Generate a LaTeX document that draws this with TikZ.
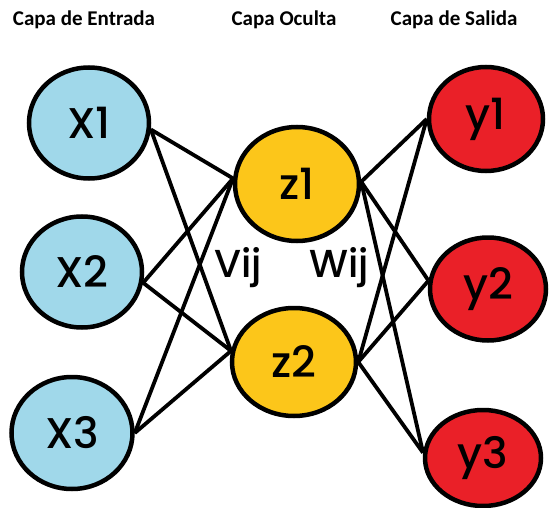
\documentclass[tikz,border=0pt]{standalone}
\usepackage{fontspec}
\setmainfont{Poppins}
\newfontfamily\nodefont{Poppins Medium}
\newfontfamily\titlefont{Carlito}
\usetikzlibrary{shapes.geometric}
\definecolor{inblue}{RGB}{160,216,234}
\definecolor{hidyellow}{RGB}{252,198,26}
\definecolor{outred}{RGB}{234,32,40}
\tikzset{
  neuron/.style={ellipse, draw=black, line width=4.5pt, inner sep=0pt, font=\nodefont\fontsize{43}{43}\selectfont},
  title/.style={font=\titlefont\bfseries\fontsize{21}{21}\selectfont, inner sep=0pt},
  wlabel/.style={font=\nodefont\fontsize{39}{39}\selectfont, inner sep=0pt},
  conn/.style={line width=3.8pt, black}
}
\begin{document}
\begin{tikzpicture}[x=1pt,y=-1pt]
\useasboundingbox (0,0) rectangle (557,508);
% titles
\node[title] (t1) at (84,20) {Capa de Entrada};
\node[title] (t2) at (284,20) {Capa Oculta};
\node[title] (t3) at (454,20) {Capa de Salida};
% neurons
\node[neuron, fill=inblue, minimum width=120pt, minimum height=111pt] (x1) at (89,123) {X1};
\node[neuron, fill=inblue, minimum width=120pt, minimum height=111pt] (x2) at (82,272) {X2};
\node[neuron, fill=inblue, minimum width=121pt, minimum height=112pt] (x3) at (72,433) {X3};
\node[neuron, fill=hidyellow, minimum width=124pt, minimum height=114pt] (z1) at (297,184) {z1};
\node[neuron, fill=hidyellow, minimum width=124pt, minimum height=108pt] (z2) at (294,362) {z2};
\node[neuron, fill=outred, minimum width=114pt, minimum height=104pt] (y1) at (486,119) {y1};
\node[neuron, fill=outred, minimum width=116pt, minimum height=103pt] (y2) at (488,289) {y2};
\node[neuron, fill=outred, minimum width=116pt, minimum height=96pt] (y3) at (483,458) {y3};
% connectors input -> hidden
\draw[conn] (x1.-6) -- (z1.175);
\draw[conn] (x1.-6) -- (z2.170);
\draw[conn] (x2.-10) -- (z1.175);
\draw[conn] (x2.-10) -- (z2.170);
\draw[conn] (x3.0) -- (z1.175);
\draw[conn] (x3.0) -- (z2.170);
% connectors hidden -> output
\draw[conn] (z1.2) -- (y1.180);
\draw[conn] (z1.2) -- (y2.172);
\draw[conn] (z1.2) -- (y3.175);
\draw[conn] (z2.0) -- (y1.180);
\draw[conn] (z2.0) -- (y2.172);
\draw[conn] (z2.0) -- (y3.175);
% weight labels
\node[wlabel] (v) at (238,268) {Vij};
\node[wlabel] (w) at (339,268) {Wij};
\end{tikzpicture}
\end{document}
